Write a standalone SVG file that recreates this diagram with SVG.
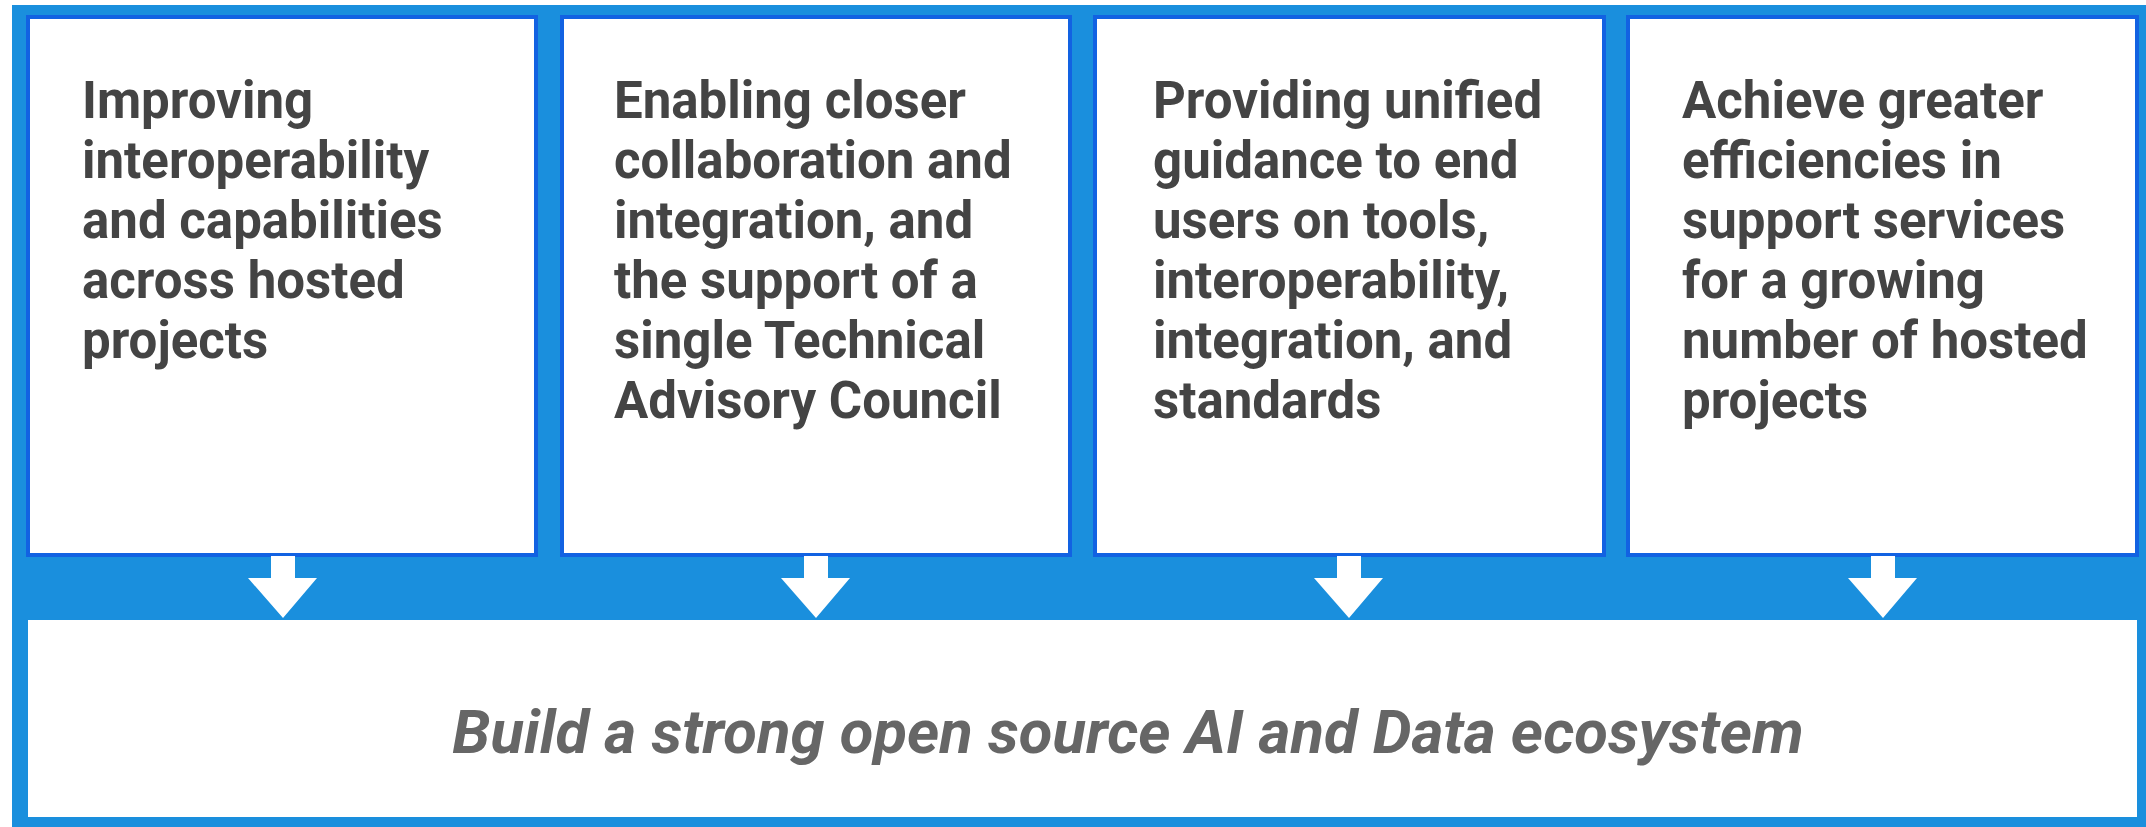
<svg xmlns="http://www.w3.org/2000/svg" width="2146" height="827" viewBox="0 0 2146 827">
<style>
.bg{fill:#1a8fdd}
.box{fill:#ffffff;stroke:#1262e2;stroke-width:4}
.goal{fill:#ffffff}
.t{font-family:Roboto,"Liberation Sans",sans-serif;font-weight:700;font-size:51px;fill:#444444}
.b{font-family:Roboto,"Liberation Sans",sans-serif;font-weight:700;font-style:italic;font-size:61.6px;fill:#666666}
.arrow{fill:#ffffff}
</style>
<rect width="2146" height="827" fill="#ffffff"/>
<rect class="bg" x="12" y="5" width="2134" height="822"/>
<g id="node1">
<rect class="box" x="28" y="17" width="508" height="538"/>
<text class="t"><tspan x="82" y="118">Improving</tspan><tspan x="82" y="178">interoperability</tspan><tspan x="82" y="238">and capabilities</tspan><tspan x="82" y="298">across hosted</tspan><tspan x="82" y="358">projects</tspan></text>
</g>
<g id="node2">
<rect class="box" x="562" y="17" width="508" height="538"/>
<text class="t"><tspan x="614" y="118">Enabling closer</tspan><tspan x="614" y="178">collaboration and</tspan><tspan x="614" y="238">integration, and</tspan><tspan x="614" y="298">the support of a</tspan><tspan x="614" y="358">single Technical</tspan><tspan x="614" y="418">Advisory Council</tspan></text>
</g>
<g id="node3">
<rect class="box" x="1095" y="17" width="509" height="538"/>
<text class="t"><tspan x="1153" y="118">Providing unified</tspan><tspan x="1153" y="178">guidance to end</tspan><tspan x="1153" y="238">users on tools,</tspan><tspan x="1153" y="298">interoperability,</tspan><tspan x="1153" y="358">integration, and</tspan><tspan x="1153" y="418">standards</tspan></text>
</g>
<g id="node4">
<rect class="box" x="1628" y="17" width="509" height="538"/>
<text class="t"><tspan x="1682" y="118">Achieve greater</tspan><tspan x="1682" y="178">efficiencies in</tspan><tspan x="1682" y="238">support services</tspan><tspan x="1682" y="298">for a growing</tspan><tspan x="1682" y="358">number of hosted</tspan><tspan x="1682" y="418">projects</tspan></text>
</g>
<g id="node5">
<rect class="goal" x="28" y="620" width="2109" height="197"/>
<text class="b" x="1128" y="753" text-anchor="middle">Build a strong open source AI and Data ecosystem</text>
</g>
<g id="connectors">
<path class="arrow" d="M271 556 H295 V578 H317 L283 618 L248 578 H271 Z"/>
<path class="arrow" d="M804 556 H828 V578 H850 L816 618 L781 578 H804 Z"/>
<path class="arrow" d="M1337 556 H1361 V578 H1383 L1349 618 L1314 578 H1337 Z"/>
<path class="arrow" d="M1871 556 H1895 V578 H1917 L1883 618 L1848 578 H1871 Z"/>
</g>
</svg>
